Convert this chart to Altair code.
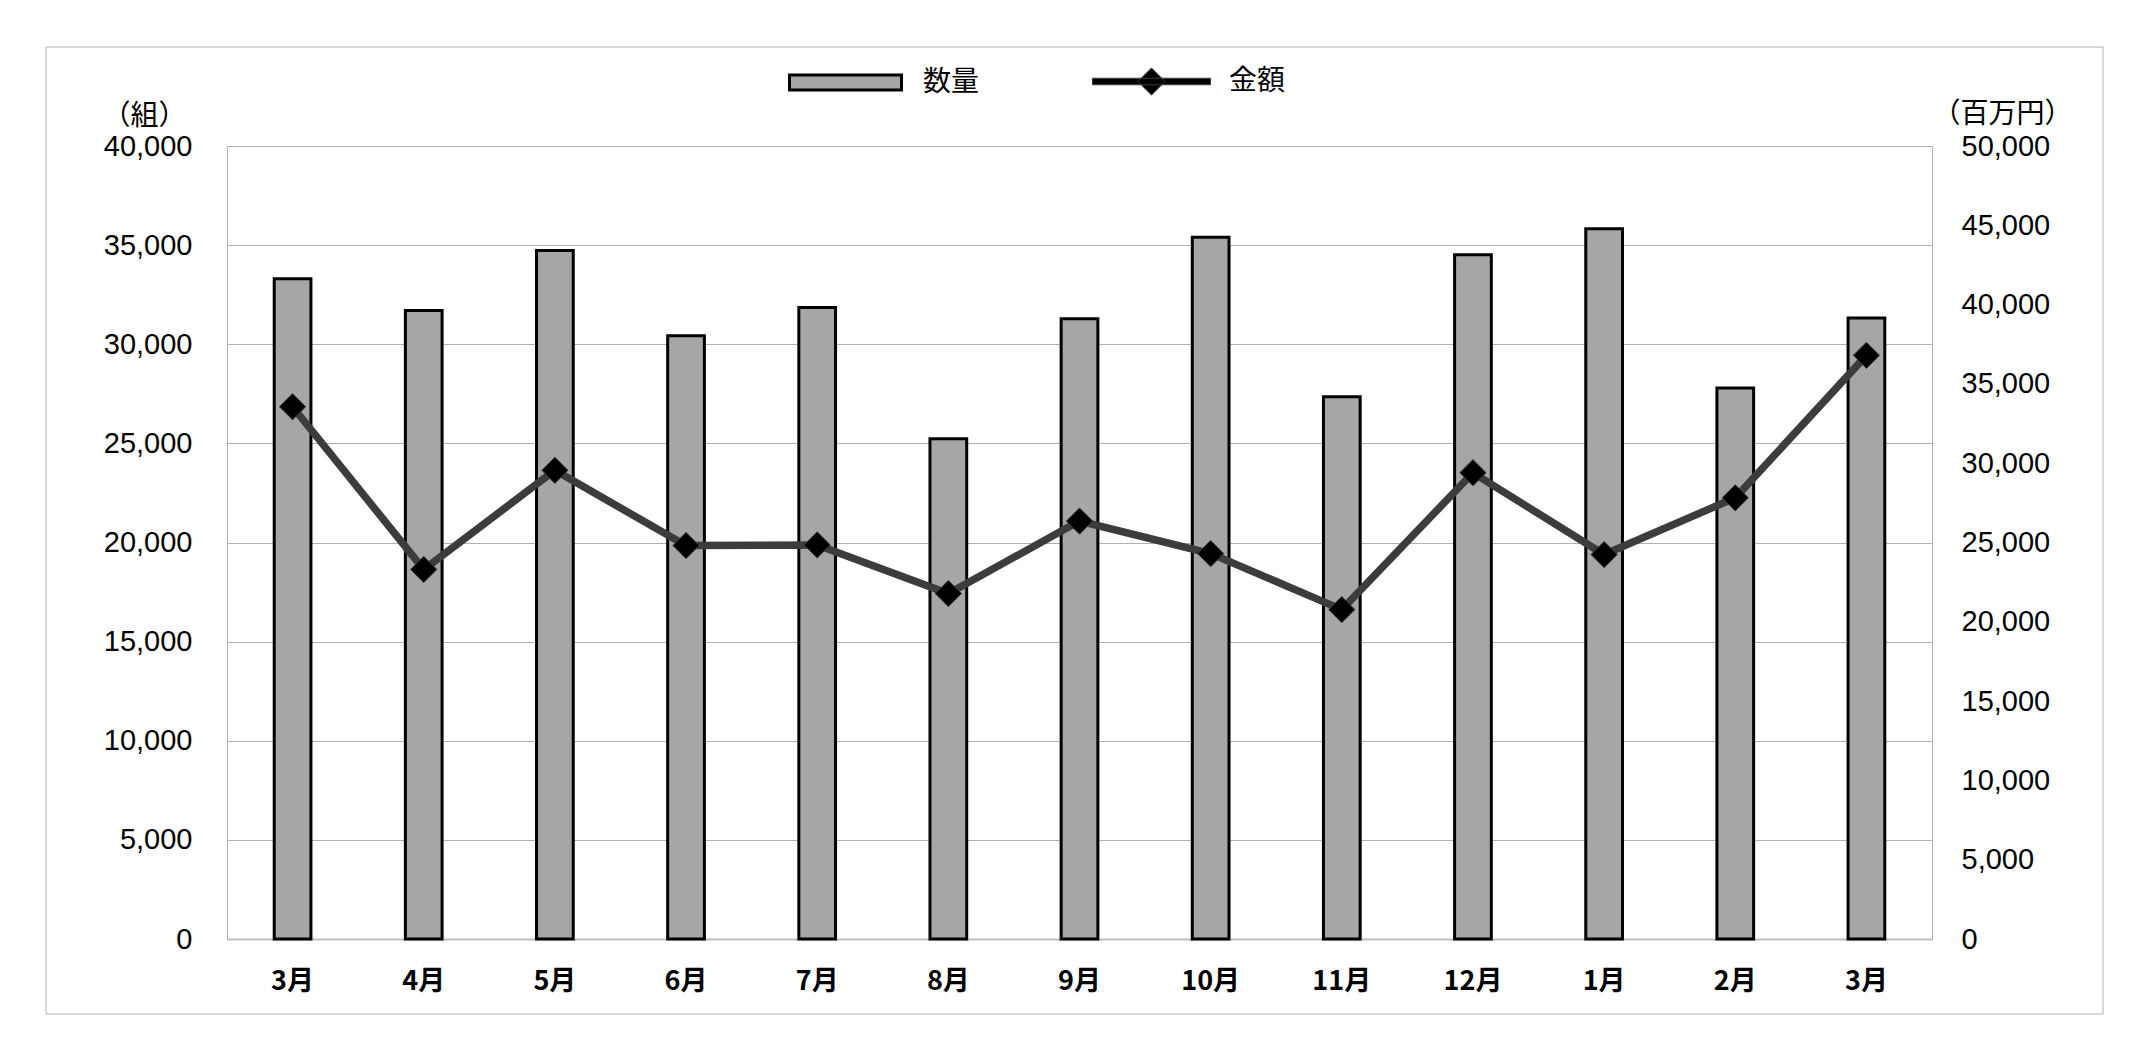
import altair as alt
import pandas as pd

months = ["3月", "4月", "5月", "6月", "7月", "8月", "9月", "10月", "11月", "12月", "1月", "2月", "3月"]
quantity = [33300, 31700, 34730, 30430, 31850, 25230, 31280, 35400, 27350, 34520, 35820, 27790, 31330]
amount = [33560, 23300, 29550, 24810, 24850, 21780, 26350, 24300, 20770, 29400, 24240, 27820, 36800]
left_ticks = [0, 5000, 10000, 15000, 20000, 25000, 30000, 35000, 40000]
right_ticks = [0, 5000, 10000, 15000, 20000, 25000, 30000, 35000, 40000, 45000, 50000]
series_names = ["数量", "金額"]
axis_titles = ["（組）", "（百万円）"]

CJK = "Noto Sans CJK JP"
NUM = "Liberation Sans"
GRID = "#B0B0B0"

df = pd.DataFrame({"idx": list(range(len(months))), "month": months,
                   "qty": quantity, "amt": amount})

label_expr = "[" + ",".join("'" + m + "'" for m in months) + "][datum.value]"

x_enc = alt.X(
    "idx:O",
    scale=alt.Scale(paddingInner=0.72, paddingOuter=0.36),
    axis=alt.Axis(
        title=None, labelExpr=label_expr, labelAngle=0, labelFont=CJK,
        labelFontSize=27, labelFontWeight="bold", labelColor="black",
        ticks=False, tickSize=0, domain=True, domainColor="#BFBFBF",
        domainWidth=2, labelPadding=42, labelBaseline="middle", grid=False,
    ),
)

base = alt.Chart(df)

bars = base.transform_calculate(s1="'" + series_names[0] + "'").mark_bar(
    stroke="black", strokeWidth=3
).encode(
    x=x_enc,
    y=alt.Y(
        "qty:Q",
        scale=alt.Scale(domain=[0, 40000], nice=False),
        axis=alt.Axis(
            values=left_ticks, format=",d", title=axis_titles[0], titleAngle=0,
            titleX=-83, titleY=-30, titleAlign="center", titleBaseline="middle",
            titleFont=CJK, titleFontSize=28, titleFontWeight="normal",
            titleColor="black", labelFont=NUM, labelFontSize=29,
            labelColor="black", labelPadding=35, ticks=False, tickSize=0,
            domain=False, grid=True, gridColor=GRID, gridWidth=1,
        ),
    ),
    fill=alt.Fill(
        "s1:N",
        scale=alt.Scale(domain=[series_names[0]], range=["#A6A6A6"]),
        legend=alt.Legend(
            title=None, orient="none", legendX=561, legendY=-121,
            symbolType="M-1,-0.134L1,-0.134L1,0.134L-1,0.134Z",
            symbolSize=12544, symbolStrokeColor="black", symbolStrokeWidth=3,
            labelFont=CJK, labelFontSize=28, labelColor="black",
            labelOffset=20, padding=0,
        ),
    ),
)

line = base.transform_calculate(s2="'" + series_names[1] + "'").mark_line(
    strokeWidth=7.5,
    point=alt.OverlayMarkDef(shape="diamond", size=690, filled=True,
                             fill="black", strokeWidth=1),
).encode(
    x=x_enc,
    y=alt.Y(
        "amt:Q",
        scale=alt.Scale(domain=[0, 50000], nice=False),
        axis=alt.Axis(
            orient="right", values=right_ticks, format=",d",
            title=axis_titles[1], titleAngle=0, titleX=70, titleY=-32,
            titleAlign="center", titleBaseline="middle", titleFont=CJK,
            titleFontSize=28, titleFontWeight="normal", titleColor="black",
            labelFont=NUM, labelFontSize=29, labelColor="black",
            labelPadding=29, ticks=False, tickSize=0, domain=False, grid=False,
        ),
    ),
    stroke=alt.Stroke(
        "s2:N",
        scale=alt.Scale(domain=[series_names[1]], range=["#3C3C3C"]),
        legend=alt.Legend(
            title=None, orient="none", legendX=865, legendY=-124,
            symbolType="M-1,-0.055L1,-0.055L1,0.055L-1,0.055Z M0,-0.23L0.23,0L0,0.23L-0.23,0Z",
            symbolSize=13924, symbolFillColor="#3A3A3A",
            symbolStrokeColor="#111111", symbolStrokeWidth=1,
            labelFont=CJK, labelFontSize=28, labelColor="black",
            labelOffset=18, padding=0,
        ),
    ),
)

border = alt.Chart(pd.DataFrame({"b": [0]})).mark_rect(
    fill="white", fillOpacity=0, stroke=GRID, strokeWidth=1
).encode(
    x=alt.value(-181), x2=alt.value(1876), y=alt.value(-99), y2=alt.value(868)
)

chart = alt.layer(border, bars, line).resolve_scale(
    y="independent"
).properties(
    width=1705, height=793,
    autosize=alt.AutoSizeParams(type="none"),
    padding={"left": 219, "top": 138, "right": 178, "bottom": 91},
    background="white",
).configure_view(stroke=GRID, strokeWidth=1)

chart.save("out.html", embed_options={"renderer": "svg", "actions": False})
